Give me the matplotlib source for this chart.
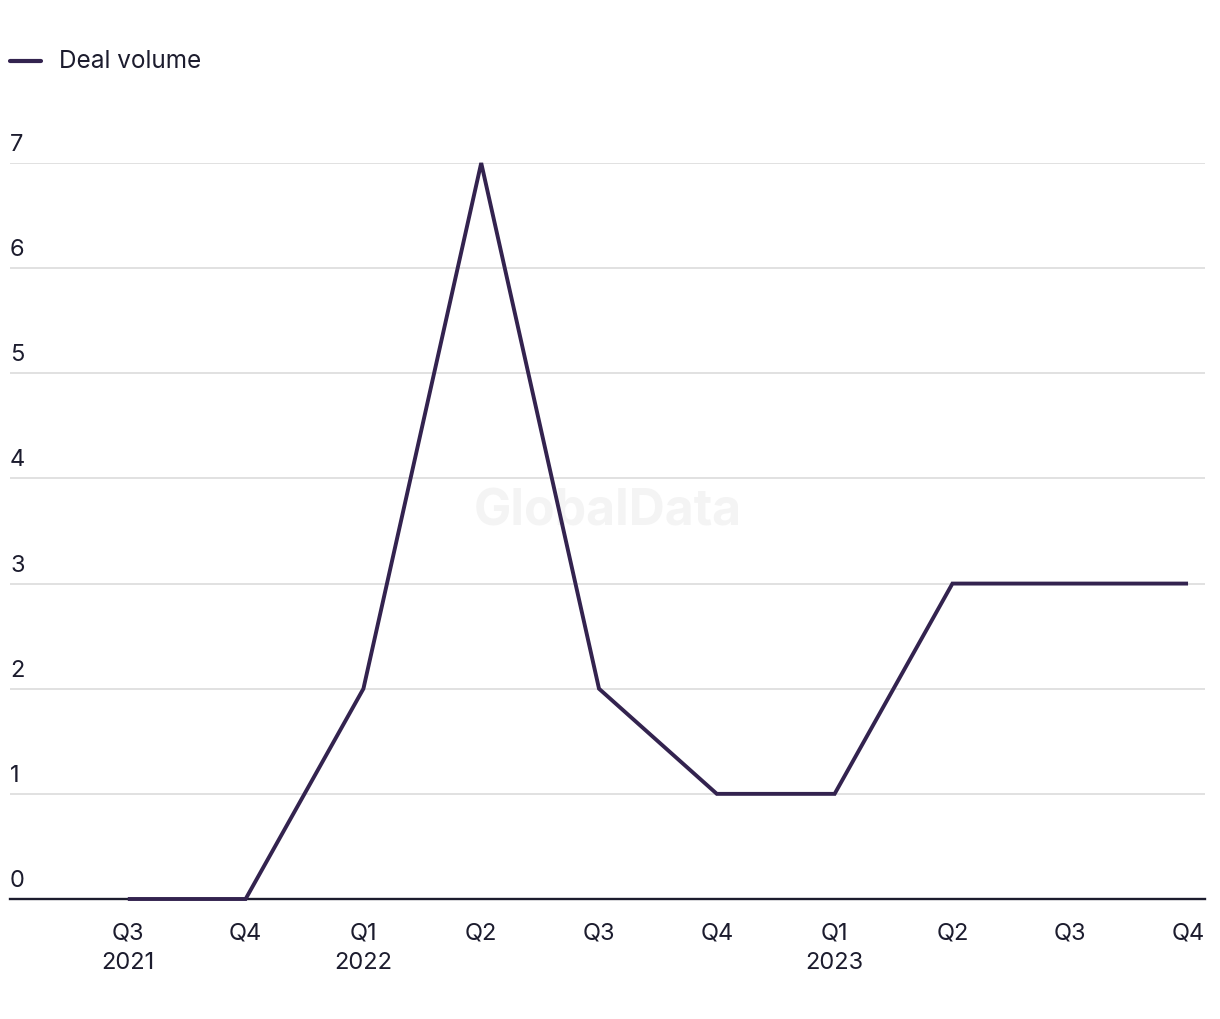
import matplotlib
matplotlib.use("Agg")
import matplotlib.pyplot as plt
from matplotlib.lines import Line2D
from matplotlib.transforms import blended_transform_factory, offset_copy

quarters = ["Q3\n2021", "Q4", "Q1\n2022", "Q2", "Q3", "Q4", "Q1\n2023", "Q2", "Q3", "Q4"]
deal_volume = [0, 0, 2, 7, 2, 1, 1, 3, 3, 3]
y_ticks = [0, 1, 2, 3, 4, 5, 6, 7]
series_name = "Deal volume"

LINE_C = "#33234f"
TEXT_C = "#1c1c2e"
plt.rcParams['font.family'] = ['Inter', 'DejaVu Sans']

W, H = 1220, 1020
fig = plt.figure(figsize=(W / 100, H / 100), dpi=100)
left, right, bottom, top = 10, 1205, 900, 164
ax = fig.add_axes([left / W, 1 - bottom / H, (right - left) / W, (bottom - top) / H])

x = list(range(len(deal_volume)))
ax.set_xlim(-1.0, 9.144)
ax.set_ylim(0, 7)

for v in y_ticks[1:]:
    ax.axhline(v, color="#dcdcdc", lw=1.2, zorder=1)
ax.axhline(0, color=TEXT_C, lw=1.7, zorder=2, clip_on=False)

ax.plot(x, deal_volume, color=LINE_C, lw=2.8, zorder=3, solid_capstyle='butt',
        solid_joinstyle='miter', clip_on=False)

for s in ax.spines.values():
    s.set_visible(False)
ax.set_yticks([])
ax.set_xticks(x)
ax.set_xticklabels(quarters, fontsize=17, color=TEXT_C, linespacing=1.45)
ax.tick_params(axis='x', length=0, pad=16)

trans = offset_copy(blended_transform_factory(ax.transAxes, ax.transData), fig=fig, x=0, y=8, units='dots')
for v in y_ticks:
    ax.text(0, v, str(v), transform=trans, ha='left', va='bottom', fontsize=17, color=TEXT_C)

ax.text(0.5, 1 - (512 - top) / (bottom - top), "GlobalData", transform=ax.transAxes,
        ha='center', va='center', fontsize=36, fontweight='bold', color="#f4f4f4", zorder=0)

fig.add_artist(Line2D([10 / W, 41 / W], [1 - 62 / H, 1 - 62 / H], color=LINE_C, lw=3, solid_capstyle='round'))
fig.text(59 / W, 1 - 62 / H, series_name, ha='left', va='center', fontsize=17.5, color=TEXT_C)

fig.savefig("out.png", dpi=100)
